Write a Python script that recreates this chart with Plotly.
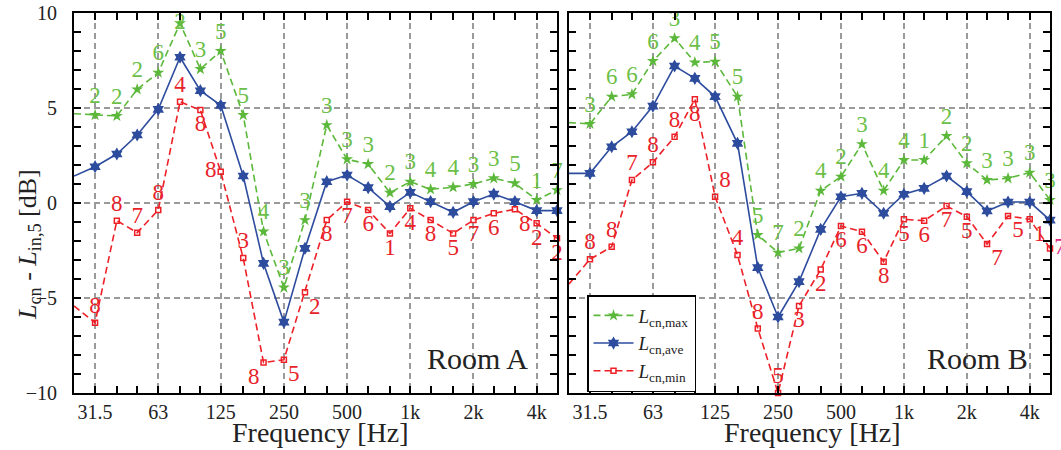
import math
import plotly.graph_objects as go

# ---------------- data ----------------
freqs = [25, 31.5, 40, 50, 63, 80, 100, 125, 160, 200, 250, 315, 400, 500,
         630, 800, 1000, 1250, 1600, 2000, 2500, 3150, 4000, 5000]

x_tickvals = [31.5, 63, 125, 250, 500, 1000, 2000, 4000]
x_ticktext = ["31.5", "63", "125", "250", "500", "1k", "2k", "4k"]
y_tickvals = [-10, -5, 0, 5, 10]

roomA_max = [4.7, 4.63, 4.58, 5.98, 6.86, 9.46, 7.05, 8.0, 4.63, -1.5, -4.45, -0.9,
             4.1, 2.3, 2.05, 0.54, 1.12, 0.72, 0.83, 1.0, 1.3, 1.04, 0.16, 0.68]
roomA_ave = [1.42, 1.91, 2.58, 3.58, 4.93, 7.67, 5.91, 5.14, 1.42, -3.18, -6.27, -2.39,
             1.12, 1.47, 0.81, -0.19, 0.56, 0.07, -0.49, 0.07, 0.47, 0.07, -0.4, -0.4]
roomA_min = [-5.42, -6.3, -0.93, -1.56, -0.37, 5.33, 4.89, 1.65, -2.9, -8.4, -8.25, -4.7,
             -0.9, 0.07, -0.37, -1.6, -0.28, -0.9, -1.6, -0.9, -0.54, -0.33, -1.07, -1.86]
roomA_max_lbl = ["2", "2", "2", "2", "6", "2", "3", "5", "5", "4", "3", "3",
                 "3", "3", "3", "2", "3", "4", "4", "3", "3", "5", "1", "7"]
roomA_min_lbl = ["8", "8", "8", "7", "8", "4", "8", "8", "3", "8", "5", "2",
                 "8", "7", "6", "1", "4", "8", "5", "7", "6", "8", "2", "2"]

roomB_max = [4.23, 4.16, 5.6, 5.72, 7.47, 8.67, 7.4, 7.44, 5.6, -1.68, -2.61, -2.39,
             0.65, 1.39, 3.1, 0.65, 2.26, 2.26, 3.53, 2.09, 1.21, 1.3, 1.6, 0.16]
roomB_ave = [1.56, 1.56, 2.96, 3.75, 5.1, 7.21, 6.56, 5.6, 3.14, -3.4, -6.0, -4.14,
             -1.39, 0.33, 0.51, -0.54, 0.46, 0.77, 1.42, 0.6, -0.42, 0.05, 0.05, -0.9]
roomB_min = [-4.26, -2.96, -2.3, 1.21, 2.14, 3.49, 5.46, 0.33, -2.74, -6.6, -10.0, -5.42,
             -3.5, -1.21, -1.51, -3.09, -0.86, -0.93, -0.16, -0.72, -2.16, -0.68, -0.86, -2.39]
roomB_max_lbl = ["2", "3", "6", "6", "6", "3", "4", "5", "5", "5", "7", "2",
                 "4", "2", "3", "4", "4", "1", "2", "2", "3", "3", "3", "3"]
roomB_min_lbl = ["8", "8", "8", "7", "8", "8", "8", "8", "4", "8", "5", "3",
                 "2", "6", "6", "8", "5", "6", "7", "5", "7", "5", "1", "7"]

# ---------------- style ----------------
FONT = "Liberation Serif"
GREEN = "#5cb83a"
GREEN_T = "#6cbf48"
BLUE = "#2d4c9e"
RED = "#ee2027"
RED_T = "#e8222a"
TXT = "#222222"
DASH = "7px,4px"

posA_max = ["top center"] * 5 + ["middle center"] + ["top center"] * 18
posB_max = ["top center"] * 24
posA_min = ["top center"] * 6 + ["bottom center", "middle left", "top center",
            "bottom left", "bottom right", "bottom right"] + ["bottom center"] * 9 + \
           ["bottom right", "bottom center", "bottom center"]
posB_min = ["top right"] + ["top center"] * 5 + ["bottom center", "top right",
            "top center", "top center", "top center"] + ["bottom center"] * 9 + \
           ["bottom right", "bottom right", "bottom right", "middle right"]
colB_min = [RED_T] * 23 + ["#e02a86"]

fig = go.Figure()


def add_room(xa, ya, ymax, yave, ymin, lmax, lmin, posmax, posmin, colmin, show):
    fig.add_trace(go.Scatter(
        x=freqs, y=ymax, xaxis=xa, yaxis=ya, mode="lines+markers+text",
        name="<i>L</i><sub>cn,max</sub>", showlegend=show,
        line=dict(color=GREEN, width=1.6, dash=DASH),
        marker=dict(symbol="star", size=9, color=GREEN),
        text=lmax, textposition=posmax,
        textfont=dict(family=FONT, size=23, color=GREEN_T), cliponaxis=False))
    fig.add_trace(go.Scatter(
        x=freqs, y=yave, xaxis=xa, yaxis=ya, mode="lines+markers",
        name="<i>L</i><sub>cn,ave</sub>", showlegend=show,
        line=dict(color=BLUE, width=1.6),
        marker=dict(symbol="hexagram", size=10, color=BLUE), cliponaxis=False))
    fig.add_trace(go.Scatter(
        x=freqs, y=ymin, xaxis=xa, yaxis=ya, mode="lines+markers+text",
        name="<i>L</i><sub>cn,min</sub>", showlegend=show,
        line=dict(color=RED, width=1.6, dash=DASH),
        marker=dict(symbol="square-open", size=5, color=RED, line=dict(width=1.5)),
        text=lmin, textposition=posmin,
        textfont=dict(family=FONT, size=23, color=colmin), cliponaxis=False))


add_room("x", "y", roomA_max, roomA_ave, roomA_min, roomA_max_lbl, roomA_min_lbl,
         posA_max, posA_min, RED_T, False)
add_room("x2", "y2", roomB_max, roomB_ave, roomB_min, roomB_max_lbl, roomB_min_lbl,
         posB_max, posB_min, colB_min, True)


def xaxis_cfg(domain, anchor):
    return dict(
        type="log", domain=domain, anchor=anchor, automargin=False,
        range=[math.log10(25), math.log10(5000)],
        tickmode="array", tickvals=x_tickvals, ticktext=x_ticktext,
        ticks="inside", ticklen=7, tickwidth=1.5, tickcolor="black",
        minor=dict(tickmode="array", tickvals=freqs, ticks="inside",
                   ticklen=7, tickwidth=1.5, tickcolor="black", showgrid=False),
        showgrid=True, gridcolor="#9a9a9a", griddash="6px,4px", gridwidth=1.5,
        showline=True, linecolor="black", linewidth=2, mirror="allticks",
        zeroline=False, ticklabeloverflow="allow",
        tickfont=dict(family=FONT, size=20, color=TXT),
    )


def yaxis_cfg(anchor, labels):
    return dict(
        domain=[0, 1], anchor=anchor, range=[-10, 10], automargin=False,
        tickmode="array", tickvals=y_tickvals,
        showticklabels=labels,
        ticks="inside", ticklen=7, tickwidth=1.5, tickcolor="black",
        minor=dict(dtick=1, tick0=0, ticks="inside", ticklen=7, tickwidth=1.5,
                   tickcolor="black", showgrid=False),
        showgrid=True, gridcolor="#9a9a9a", griddash="6px,4px", gridwidth=1.5,
        showline=True, linecolor="black", linewidth=2, mirror="allticks",
        zeroline=False, ticklabelstandoff=11, ticklabeloverflow="allow",
        tickfont=dict(family=FONT, size=20, color=TXT),
    )


W, H = 1061, 450
ml, mr, mt, mb = 74, 11, 13, 57
pw = W - ml - mr
ph = H - mt - mb
dA = [0, (557 - ml) / pw]
dB = [(569 - ml) / pw, 1]


def px(xp):
    return (xp - ml) / pw


def py(yp):
    return 1 - (yp - mt) / ph


fig.update_layout(
    width=W, height=H,
    margin=dict(l=ml, r=mr, t=mt, b=mb),
    paper_bgcolor="white", plot_bgcolor="white",
    xaxis=xaxis_cfg(dA, "y"), xaxis2=xaxis_cfg(dB, "y2"),
    yaxis=yaxis_cfg("x", True), yaxis2=yaxis_cfg("x2", False),
    showlegend=True,
    legend=dict(x=px(587), y=py(295),
                xanchor="left", yanchor="top",
                bgcolor="white", bordercolor="black", borderwidth=1.5,
                font=dict(family=FONT, size=19, color=TXT),
                tracegroupgap=0, itemwidth=40),
    annotations=[
        dict(text="<i>L</i><sub>cn</sub> - <i>L</i><sub>in,5</sub> [dB]",
             xref="paper", yref="paper", x=px(29), y=py(245),
             xanchor="center", yanchor="middle", textangle=-90, showarrow=False,
             font=dict(family=FONT, size=26, color=TXT)),
        dict(text="Frequency [Hz]", xref="paper", yref="paper", x=px(320), y=py(432),
             xanchor="center", yanchor="middle", showarrow=False,
             font=dict(family=FONT, size=28, color=TXT)),
        dict(text="Frequency [Hz]", xref="paper", yref="paper", x=px(812), y=py(432),
             xanchor="center", yanchor="middle", showarrow=False,
             font=dict(family=FONT, size=28, color=TXT)),
        dict(text="Room A", xref="x domain", yref="y domain", x=0.944, y=0.092,
             xanchor="right", yanchor="middle", showarrow=False,
             font=dict(family=FONT, size=30, color=TXT)),
        dict(text="Room B", xref="x2 domain", yref="y2 domain", x=0.958, y=0.092,
             xanchor="right", yanchor="middle", showarrow=False,
             font=dict(family=FONT, size=30, color=TXT)),
    ],
)

# remove the default 8px page margin so the figure sits at the window's corner
fig.write_html("out.html", config={"displayModeBar": False},
               post_script="document.body.style.margin='0';")
